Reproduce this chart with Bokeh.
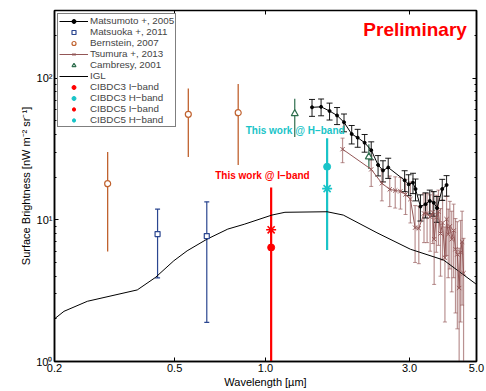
from bokeh.plotting import figure
from bokeh.models import (ColumnDataSource, Whisker, TeeHead, Legend, LegendItem, Label,
                          FixedTicker, LogAxis, CustomJSTickFormatter, Range1d)
from bokeh.embed import file_html
from bokeh.resources import INLINE

# ---------------- data ----------------
matsumoto_wl = [1.426, 1.528, 1.63, 1.726, 1.82, 1.93, 2.02, 2.13, 2.24, 2.36, 2.45, 2.55,
                2.89, 2.98, 3.08, 3.14, 3.26, 3.39, 3.50, 3.61, 3.70, 3.85, 3.98]
matsumoto_val = [62.2, 62.7, 58.6, 54.5, 48.8, 40.3, 38.0, 35.0, 31.0, 24.4, 22.3, 23.4,
                 19.0, 17.8, 18.3, 16.5, 12.4, 12.9, 13.6, 13.2, 12.1, 16.5, 17.6]
matsumoto_err = [8.5, 8.5, 8.0, 7.5, 7.0, 6.0, 5.5, 5.0, 4.5, 4.0, 3.8, 3.8,
                 3.2, 3.0, 3.0, 2.9, 2.6, 2.6, 2.6, 2.6, 2.5, 2.8, 2.9]

matsuoka_wl = [0.439, 0.639]
matsuoka_val = [7.93, 7.68]
matsuoka_hi = [11.9, 13.4]
matsuoka_lo = [3.89, 1.89]

bernstein_wl = [0.30, 0.555, 0.812]
bernstein_val = [18.0, 55.5, 57.0]
bernstein_hi = [30.1, 84.4, 91.0]
bernstein_lo = [5.98, 27.8, 24.4]

tsumura_wl = [1.80, 2.24, 2.43, 2.58, 2.69, 2.80, 2.91, 3.02, 3.13, 3.22, 3.35, 3.43, 3.51,
              3.58, 3.62, 3.68, 3.74, 3.80, 3.86, 3.93, 3.98, 4.03, 4.08, 4.14, 4.20, 4.26,
              4.32, 4.38, 4.43, 4.48, 4.53]
tsumura_val = [31.5, 22.7, 18.1, 16.4, 16.1, 15.9, 15.1, 14.0, 8.8, 8.7, 11.1, 11.1, 10.5,
               11.3, 7.3, 10.4, 11.4, 8.0, 9.5, 5.4, 10.1, 7.9, 9.0, 7.3, 8.4, 6.2,
               5.7, 3.3, 5.9, 7.0, 4.2]
tsumura_err = [6.2, 5.5, 4.5, 4.0, 4.0, 4.0, 4.2, 4.5, 3.8, 3.8, 4.2, 4.2, 4.5,
               4.5, 3.8, 4.5, 4.8, 4.0, 4.3, 3.5, 4.5, 4.0, 4.5, 4.2, 4.5, 4.0,
               4.0, 3.0, 4.0, 4.5, 3.2]

cambresy_wl = [1.25, 2.2]
cambresy_val = [56.1, 27.8]
cambresy_hi = [71.5, 34.1]
cambresy_lo = [38.4, 22.8]

igl_wl = [0.2, 0.215, 0.257, 0.376, 0.432, 0.497, 0.55, 0.64, 0.75, 0.85, 1.05, 1.16,
          1.6, 1.81, 2.34, 3.02, 3.89, 5.0]
igl_val = [2.0, 2.26, 2.66, 3.2, 3.92, 5.14, 6.04, 7.3, 8.6, 9.3, 10.8, 11.3,
           11.4, 10.8, 8.1, 6.2, 5.2, 3.5]

cibdc3_i_wl = [1.044]
cibdc3_i_val = [6.38]
cibdc3_i_hi = [16.9]
cibdc3_i_lo = [0.5]
cibdc5_i_val = [8.5]

cibdc3_h_wl = [1.60]
cibdc3_h_val = [23.7]
cibdc3_h_hi = [37.6]
cibdc3_h_lo = [6.12]
cibdc5_h_val = [16.6]

x_ticks = [0.2, 0.5, 1.0, 3.0, 5.0]
y_ticks = [1, 10, 100]
y_minor = [m * d for d in (1, 10, 100) for m in range(2, 10) if m * d <= 300]

# ---------------- styles ----------------
FONT = "Liberation Sans"
C_MATSUOKA = "#2b4690"
C_BERNSTEIN = "#c0622f"
C_TSUMURA = "#935656"
C_CAMBRESY = "#2f6e4e"
C_RED = "#ff0000"
C_CYAN = "#19c4c8"

p = figure(width=486, height=391, x_axis_type="log", y_axis_type="log",
           x_range=Range1d(0.2, 5.0), y_range=Range1d(1, 300),
           output_backend="svg", toolbar_location=None,
           min_border_left=54, min_border_right=10, min_border_top=10, min_border_bottom=30)
p.xgrid.visible = False
p.ygrid.visible = False
p.outline_line_color = "black"
p.outline_line_width = 1.5
p.background_fill_color = "white"

# axes
p.xaxis.ticker = FixedTicker(ticks=x_ticks, minor_ticks=[])
p.xaxis.formatter = CustomJSTickFormatter(code="return tick.toFixed(1);")
p.yaxis.ticker = FixedTicker(ticks=y_ticks, minor_ticks=y_minor)
p.yaxis.formatter = CustomJSTickFormatter(
    code="var m={1:'10\u2070',10:'10\u00b9',100:'10\u00b2'}; return m[Math.round(tick)]||'';")
for ax in (p.xaxis[0], p.yaxis[0]):
    ax.major_tick_in = 4
    ax.major_tick_out = 0
    ax.minor_tick_in = 2
    ax.minor_tick_out = 0
    ax.axis_line_width = 1.5
    ax.major_label_text_font = FONT
    ax.major_label_text_font_size = "11px"
    ax.major_label_text_color = "black"
    ax.axis_label_text_font = FONT
    ax.axis_label_text_font_size = "11px"
    ax.axis_label_text_font_style = "normal"
    ax.axis_label_text_color = "black"
    ax.major_label_standoff = 2
    ax.axis_label_standoff = 1
p.xaxis.axis_label = "Wavelength [\u00b5m]"
p.yaxis.axis_label = "Surface Brightness [nW m\u207b\u00b2 sr\u207b\u00b9]"

blank = CustomJSTickFormatter(code="return '';")
right_ax = LogAxis(ticker=FixedTicker(ticks=y_ticks, minor_ticks=y_minor), formatter=blank,
                   major_label_text_font_size="1px", major_label_standoff=0,
                   major_tick_in=4, major_tick_out=0, minor_tick_in=2, minor_tick_out=0,
                   axis_line_width=1.5)
top_ax = LogAxis(ticker=FixedTicker(ticks=x_ticks, minor_ticks=[]), formatter=blank,
                 major_label_text_font_size="1px", major_label_standoff=0,
                 major_tick_in=4, major_tick_out=0, minor_tick_in=0, minor_tick_out=0,
                 axis_line_width=1.0)
p.add_layout(right_ax, "right")
p.add_layout(top_ax, "above")

# IGL
igl_src = ColumnDataSource(dict(x=igl_wl, y=igl_val))
r_igl = p.line("x", "y", source=igl_src, line_color="black", line_width=1.0)

# Tsumura
ts_src = ColumnDataSource(dict(x=tsumura_wl, y=tsumura_val,
                               hi=[v + e for v, e in zip(tsumura_val, tsumura_err)],
                               lo=[max(v - e, 0.3) for v, e in zip(tsumura_val, tsumura_err)]))
p.add_layout(Whisker(source=ts_src, base="x", upper="hi", lower="lo", dimension="height",
                     line_color=C_TSUMURA, line_alpha=0.65, line_width=1.2,
                     upper_head=TeeHead(size=4, line_color=C_TSUMURA, line_alpha=0.65),
                     lower_head=TeeHead(size=4, line_color=C_TSUMURA, line_alpha=0.65)))
r_ts_l = p.line("x", "y", source=ts_src, line_color=C_TSUMURA, line_width=1.0)
r_ts_m = p.scatter("x", "y", source=ts_src, marker="x", size=6, line_color=C_TSUMURA,
                   line_width=1.0)

# Matsumoto
mt_src = ColumnDataSource(dict(x=matsumoto_wl, y=matsumoto_val,
                               hi=[v + e for v, e in zip(matsumoto_val, matsumoto_err)],
                               lo=[v - e for v, e in zip(matsumoto_val, matsumoto_err)]))
p.add_layout(Whisker(source=mt_src, base="x", upper="hi", lower="lo", dimension="height",
                     line_color="black", line_width=0.9,
                     upper_head=TeeHead(size=6, line_color="black", line_width=0.9),
                     lower_head=TeeHead(size=6, line_color="black", line_width=0.9)))
r_mt_l = p.line("x", "y", source=mt_src, line_color="black", line_width=1.0)
r_mt_m = p.scatter("x", "y", source=mt_src, marker="circle", size=3, fill_color="black",
                   line_color="black")

# Matsuoka
mo_src = ColumnDataSource(dict(x=matsuoka_wl, y=matsuoka_val, hi=matsuoka_hi, lo=matsuoka_lo))
p.add_layout(Whisker(source=mo_src, base="x", upper="hi", lower="lo", dimension="height",
                     line_color=C_MATSUOKA, line_width=1.2,
                     upper_head=TeeHead(size=5, line_color=C_MATSUOKA, line_width=1.2),
                     lower_head=TeeHead(size=5, line_color=C_MATSUOKA, line_width=1.2)))
r_mo = p.scatter("x", "y", source=mo_src, marker="square", size=5, fill_color="white",
                 line_color=C_MATSUOKA, line_width=1.2)

# Bernstein
be_src = ColumnDataSource(dict(x=bernstein_wl, y=bernstein_val, hi=bernstein_hi, lo=bernstein_lo))
p.add_layout(Whisker(source=be_src, base="x", upper="hi", lower="lo", dimension="height",
                     line_color=C_BERNSTEIN, line_width=1.3, upper_head=None, lower_head=None))
r_be = p.scatter("x", "y", source=be_src, marker="circle", size=6, fill_color="white",
                 line_color=C_BERNSTEIN, line_width=1.2)

# Cambresy
ca_src = ColumnDataSource(dict(x=cambresy_wl, y=cambresy_val, hi=cambresy_hi, lo=cambresy_lo))
p.add_layout(Whisker(source=ca_src, base="x", upper="hi", lower="lo", dimension="height",
                     line_color=C_CAMBRESY, line_width=1.2, upper_head=None, lower_head=None))
r_ca = p.scatter("x", "y", source=ca_src, marker="triangle", size=7, fill_color="white",
                 line_color=C_CAMBRESY, line_width=1.2)

# This work
ci_src = ColumnDataSource(dict(x=cibdc3_i_wl, y=cibdc3_i_val, y5=cibdc5_i_val,
                               hi=cibdc3_i_hi, lo=cibdc3_i_lo))
ch_src = ColumnDataSource(dict(x=cibdc3_h_wl, y=cibdc3_h_val, y5=cibdc5_h_val,
                               hi=cibdc3_h_hi, lo=cibdc3_h_lo))
p.add_layout(Whisker(source=ci_src, base="x", upper="hi", lower="lo", dimension="height",
                     line_color=C_RED, line_width=2.2, upper_head=None, lower_head=None))
p.add_layout(Whisker(source=ch_src, base="x", upper="hi", lower="lo", dimension="height",
                     line_color=C_CYAN, line_width=2.2, upper_head=None, lower_head=None))
r_ci3 = p.scatter("x", "y", source=ci_src, marker="circle", size=7, fill_color=C_RED,
                  line_color=C_RED)
r_ch3 = p.scatter("x", "y", source=ch_src, marker="circle", size=7, fill_color=C_CYAN,
                  line_color=C_CYAN)
r_ci5 = p.scatter("x", "y5", source=ci_src, marker="asterisk", size=10, line_color=C_RED,
                  line_width=1.6)
r_ch5 = p.scatter("x", "y5", source=ch_src, marker="asterisk", size=10, line_color=C_CYAN,
                  line_width=1.6)

# annotations
p.add_layout(Label(x=3.13, y=219, text="Preliminary", text_color=C_RED, text_font=FONT,
                   text_font_size="19px", text_font_style="bold", text_align="center",
                   text_baseline="middle"))
p.add_layout(Label(x=0.977, y=20.4, text="This work @ I\u2212band", text_color=C_RED,
                   text_font=FONT, text_font_size="10px", text_font_style="bold",
                   text_align="center", text_baseline="middle"))
p.add_layout(Label(x=1.254, y=42.4, text="This work @ H\u2212band", text_color=C_CYAN,
                   text_font=FONT, text_font_size="10px", text_font_style="bold",
                   text_align="center", text_baseline="middle"))

legend = Legend(items=[
    LegendItem(label="Matsumoto +, 2005", renderers=[r_mt_l, r_mt_m]),
    LegendItem(label="Matsuoka +, 2011", renderers=[r_mo]),
    LegendItem(label="Bernstein, 2007", renderers=[r_be]),
    LegendItem(label="Tsumura +, 2013", renderers=[r_ts_l, r_ts_m]),
    LegendItem(label="Cambresy, 2001", renderers=[r_ca]),
    LegendItem(label="IGL", renderers=[r_igl]),
    LegendItem(label="CIBDC3 I\u2212band", renderers=[r_ci3]),
    LegendItem(label="CIBDC3 H\u2212band", renderers=[r_ch3]),
    LegendItem(label="CIBDC5 I\u2212band", renderers=[r_ci5]),
    LegendItem(label="CIBDC5 H\u2212band", renderers=[r_ch5]),
], location="top_left")
legend.label_text_font = FONT
legend.label_text_font_size = "9.8px"
legend.label_height = 10
legend.glyph_height = 10
legend.glyph_width = 29
legend.spacing = 0
legend.padding = 1
legend.margin = 3
legend.label_standoff = 2
legend.border_line_color = "black"
legend.border_line_width = 1.5
legend.background_fill_alpha = 1.0
p.add_layout(legend)

open("out.html", "w").write(file_html(p, INLINE))
